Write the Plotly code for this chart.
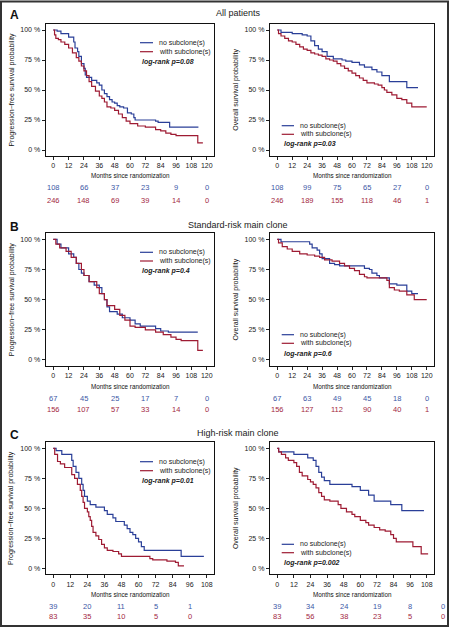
import plotly.graph_objects as go

W, H = 451, 628

# ---------------- data ----------------
# Panel A, PFS
a_pfs_no_t = [0, 3, 6, 12, 16, 17, 19, 20, 22, 24, 25, 26, 30, 34, 36, 38, 40, 42, 44, 46, 48, 50, 52, 55, 58, 61, 63, 64, 80, 82, 91, 113.5]
a_pfs_no_s = [100, 99, 97, 94, 90, 85, 82, 78, 72, 68, 62.5, 60.5, 58, 56, 54, 50, 47, 44.5, 42, 40, 39, 37, 36, 35, 31, 30, 27, 25, 24, 23, 19, 19]
a_pfs_sub_t = [0, 1, 2, 4, 6, 9, 12, 15, 18, 20, 22, 24, 26, 28, 30, 33, 36, 38, 40, 42, 45, 48, 51, 54, 57, 60, 66, 72, 80, 84, 88, 92, 96, 113, 117]
a_pfs_sub_s = [100, 96, 93, 92, 90, 88, 85, 81, 77, 74, 70, 66, 62, 57, 53, 49, 45, 43, 40, 36, 35, 33, 30, 27, 24, 22, 20, 19, 17, 16, 14, 13, 12, 6, 6]
# Panel A, OS
a_os_no_t = [0, 3, 12, 20, 24, 27, 30, 33, 36, 40, 45, 52, 55, 60, 66, 70, 76, 80, 84, 90, 104, 113]
a_os_no_s = [100, 98, 97, 96, 95, 91, 87, 84, 82, 78, 76, 75, 74, 73, 71, 69, 67, 65, 62, 57, 52, 52]
a_os_sub_t = [0, 1, 3, 6, 9, 12, 15, 18, 21, 24, 27, 30, 33, 36, 39, 42, 45, 48, 51, 54, 57, 60, 63, 66, 69, 72, 78, 81, 84, 86, 88, 92, 96, 100, 104, 108, 120]
a_os_sub_s = [100, 97, 95, 93, 91, 90, 88, 86, 84, 83, 81, 80, 79, 78, 76, 75, 74, 72, 70, 68, 66, 64, 62, 60, 58, 56, 55, 54, 52, 50, 48, 46, 43, 42, 39, 36, 36]

# Panel B, PFS
b_pfs_no_t = [0, 3, 6, 12, 16, 18, 20, 22, 24, 28, 32, 36, 38, 40, 42, 44, 50, 54, 60, 64, 68, 80, 84, 90, 113]
b_pfs_no_s = [100, 96, 93, 88, 85, 80, 75, 72, 70, 65, 62, 60, 55, 50, 44, 40, 38, 35, 33, 30, 28, 26, 24, 23, 23]
b_pfs_sub_t = [0, 2, 5, 10, 14, 18, 22, 24, 28, 34, 36, 40, 42, 48, 52, 56, 60, 64, 72, 80, 86, 92, 96, 100, 113, 117]
b_pfs_sub_s = [100, 96, 93, 90, 85, 80, 75, 70, 65, 60, 55, 50, 45, 42, 37, 33, 28, 27, 25, 23, 21, 19, 17, 16, 8, 8]
# Panel B, OS
b_os_no_t = [0, 3, 26, 28, 32, 34, 36, 42, 46, 50, 70, 74, 76, 80, 82, 90, 96, 104, 108, 113]
b_os_no_s = [100, 98, 96, 93, 91, 88, 84, 80, 79, 78, 76, 75, 72, 70, 68, 63, 62, 57, 55, 55]
b_os_sub_t = [0, 1, 4, 8, 12, 18, 24, 30, 34, 38, 44, 50, 54, 58, 62, 66, 70, 72, 88, 90, 94, 98, 104, 110, 120]
b_os_sub_s = [100, 97, 94, 92, 90, 88, 87, 86, 85, 83, 82, 80, 78, 76, 74, 71, 69, 68, 66, 60, 58, 57, 54, 50, 50]

# Panel C, PFS
c_pfs_no_t = [0, 2, 6, 13, 14, 16, 18, 20, 21, 22, 24, 26, 30, 36, 38, 42, 44, 50, 52, 54, 56, 58, 60, 62, 64, 90, 106]
c_pfs_no_s = [100, 98, 95, 90, 85, 80, 75, 70, 65, 60, 56, 53, 51, 48, 45, 42, 39, 36, 33, 30, 28, 25, 22, 18, 15, 10, 10]
c_pfs_sub_t = [0, 1, 3, 5, 8, 13, 15, 17, 19, 20, 21, 22, 24, 25, 26, 27, 28, 30, 32, 34, 36, 38, 42, 46, 48, 68, 70, 80, 86, 88, 92]
c_pfs_sub_s = [100, 95, 89, 87, 84, 78, 75, 70, 65, 60, 55, 50, 47, 43, 40, 35, 30, 27, 24, 20, 17, 15, 14, 12, 10, 8, 7, 6, 5, 2, 2]
# Panel C, OS
c_os_no_t = [0, 1, 12, 22, 26, 28, 30, 32, 34, 38, 54, 60, 66, 70, 82, 90, 106]
c_os_no_s = [100, 97, 95, 92, 90, 85, 80, 76, 73, 70, 68, 65, 61, 56, 53, 48, 48]
c_os_sub_t = [0, 1, 3, 6, 8, 12, 14, 16, 18, 22, 24, 26, 28, 30, 32, 34, 38, 44, 46, 50, 54, 56, 60, 64, 66, 70, 74, 78, 82, 84, 86, 98, 104, 109]
c_os_sub_s = [100, 97, 95, 92, 90, 88, 85, 80, 77, 74, 72, 70, 67, 63, 60, 57, 56, 53, 50, 47, 45, 43, 40, 38, 36, 34, 32, 31, 28, 25, 22, 18, 12, 12]

# Numbers at risk
a_risk_times = [0, 24, 48, 72, 96, 120]
a_pfs_risk_no = [108, 66, 37, 23, 9, 0]
a_pfs_risk_sub = [246, 148, 69, 39, 14, 0]
a_os_risk_no = [108, 99, 75, 65, 27, 0]
a_os_risk_sub = [246, 189, 155, 118, 46, 1]
b_risk_times = [0, 24, 48, 72, 96, 120]
b_pfs_risk_no = [67, 45, 25, 17, 7, 0]
b_pfs_risk_sub = [156, 107, 57, 33, 14, 0]
b_os_risk_no = [67, 63, 49, 45, 18, 0]
b_os_risk_sub = [156, 127, 112, 90, 40, 1]
c_pfs_risk_times = [0, 24, 48, 72, 96]
c_pfs_risk_no = [39, 20, 11, 5, 1]
c_pfs_risk_sub = [83, 35, 10, 5, 0]
c_os_risk_times = [0, 24, 48, 72, 96, 120]
c_os_risk_no = [39, 34, 24, 19, 8, 0]
c_os_risk_sub = [83, 56, 38, 23, 5, 0]

pvalues = ["0.08", "0.03", "0.4", "0.6", "0.01", "0.002"]
panel_letters = ["A", "B", "C"]
panel_titles = ["All patients", "Standard-risk main clone", "High-risk main clone"]
legend_labels = ["no subclone(s)", "with subclone(s)"]
y_tick_vals = [0, 25, 50, 75, 100]
y_tick_text = ["0 %", "25 %", "50 %", "75 %", "100 %"]

# ---------------- styling ----------------
BLUE = "#2A3F98"
RED = "#9E1B33"
BLUE_T = "#3C57A6"
RED_T = "#A3283F"
TXT = "#222222"
FONT = "Liberation Sans, Arial, sans-serif"


def px(x):
    return x / W


def py(y):
    return 1 - y / H


fig = go.Figure()

# geometry (pixels)
col_x = [(45.6, 214.4), (269.8, 434.2)]
row_y = [(24, 156), (233.3, 366), (442.3, 574.3)]
month_label_y = [176, 386, 594]
risk_y = [(188, 200.5), (398.3, 409), (606.7, 616.7)]
title_y = [13, 225, 433]
legend_left_y = [(42.7, 51.7, 61.7), (252.3, 261, 271), (461.7, 470.7, 481)]
legend_right_y = [(125.7, 134.3, 144.3), (334.7, 343.3, 353.7), (544.3, 552.7, 563)]

panels = [
    (a_pfs_no_t, a_pfs_no_s, a_pfs_sub_t, a_pfs_sub_s, a_risk_times, a_pfs_risk_no, a_pfs_risk_sub, 120),
    (a_os_no_t, a_os_no_s, a_os_sub_t, a_os_sub_s, a_risk_times, a_os_risk_no, a_os_risk_sub, 120),
    (b_pfs_no_t, b_pfs_no_s, b_pfs_sub_t, b_pfs_sub_s, b_risk_times, b_pfs_risk_no, b_pfs_risk_sub, 120),
    (b_os_no_t, b_os_no_s, b_os_sub_t, b_os_sub_s, b_risk_times, b_os_risk_no, b_os_risk_sub, 120),
    (c_pfs_no_t, c_pfs_no_s, c_pfs_sub_t, c_pfs_sub_s, c_pfs_risk_times, c_pfs_risk_no, c_pfs_risk_sub, 108),
    (c_os_no_t, c_os_no_s, c_os_sub_t, c_os_sub_s, c_os_risk_times, c_os_risk_no, c_os_risk_sub, 108),
]

annotations = []
shapes = []

for i, (nt, ns, st, ss, rt, rn, rs, xmax) in enumerate(panels):
    r, c = divmod(i, 2)
    k = i + 1
    xa = "x" if k == 1 else f"x{k}"
    ya = "y" if k == 1 else f"y{k}"
    xkey = "xaxis" if k == 1 else f"xaxis{k}"
    ykey = "yaxis" if k == 1 else f"yaxis{k}"
    pad = xmax * 0.05
    xr = [-pad, xmax + pad]
    x0, x1 = col_x[c]
    y0, y1 = row_y[r]
    fig.add_trace(go.Scatter(x=nt, y=ns, mode="lines", line=dict(color=BLUE, width=1.2, shape="hv"),
                             xaxis=xa, yaxis=ya, showlegend=False, hoverinfo="skip"))
    fig.add_trace(go.Scatter(x=st, y=ss, mode="lines", line=dict(color=RED, width=1.2, shape="hv"),
                             xaxis=xa, yaxis=ya, showlegend=False, hoverinfo="skip"))
    fig.layout[xkey] = dict(domain=[px(x0), px(x1)], range=xr, anchor=ya,
                            tickvals=list(range(0, xmax + 1, 12)), ticks="outside", ticklen=3,
                            tickcolor="#222", tickwidth=1, showline=True, linecolor="#111", linewidth=1,
                            mirror=True, showgrid=False, zeroline=False,
                            tickfont=dict(family=FONT, size=7, color=TXT), fixedrange=True)
    fig.layout[ykey] = dict(domain=[py(y1), py(y0)], range=[-5, 105], anchor=xa,
                            tickvals=y_tick_vals, ticktext=y_tick_text, ticks="outside", ticklen=3,
                            tickcolor="#222", tickwidth=1, showline=True, linecolor="#111", linewidth=1,
                            mirror=True, showgrid=False, zeroline=False,
                            tickfont=dict(family=FONT, size=7, color=TXT), fixedrange=True)

    def tx_paper(t, x0=x0, x1=x1, xr=xr):
        # map a time value through this panel's x scale to paper coords
        return px(x0 + (t - xr[0]) / (xr[1] - xr[0]) * (x1 - x0))

    # y title
    ytitle = "Progression\u2212free survival probability" if c == 0 else "Overall survival probability"
    annotations.append(dict(x=px(x0 - 34), y=py((y0 + y1) / 2), xref="paper", yref="paper",
                            text=ytitle, textangle=-90, showarrow=False,
                            font=dict(family=FONT, size=7, color="#111"), xanchor="center", yanchor="middle"))
    # x title
    annotations.append(dict(x=tx_paper(xmax / 2), y=py(month_label_y[r]), xref="paper", yref="paper",
                            text="Months since randomization", showarrow=False,
                            font=dict(family=FONT, size=6.3, color="#111"), xanchor="center", yanchor="middle"))
    # risk table
    for t, v in zip(rt, rn):
        annotations.append(dict(x=tx_paper(t), y=py(risk_y[r][0]), xref="paper", yref="paper", text=str(v),
                                showarrow=False, font=dict(family=FONT, size=7.5, color=BLUE_T),
                                xanchor="center", yanchor="middle"))
    for t, v in zip(rt, rs):
        annotations.append(dict(x=tx_paper(t), y=py(risk_y[r][1]), xref="paper", yref="paper", text=str(v),
                                showarrow=False, font=dict(family=FONT, size=7.5, color=RED_T),
                                xanchor="center", yanchor="middle"))
    # legend
    if c == 0:
        lx0, lx1, tx = 140, 153, 156.5
        ly = legend_left_y[r]
    else:
        lx0, lx1, tx = 281.7, 294, 297.5
        ly = legend_right_y[r]
    for j, col in enumerate([BLUE, RED]):
        shapes.append(dict(type="line", xref="paper", yref="paper", x0=px(lx0), x1=px(lx1),
                           y0=py(ly[j]), y1=py(ly[j]), line=dict(color=col, width=1.2)))
        annotations.append(dict(x=px(tx), y=py(ly[j]), xref="paper", yref="paper", text=legend_labels[j],
                                showarrow=False, font=dict(family=FONT, size=7, color=TXT),
                                xanchor="left", yanchor="middle"))
    annotations.append(dict(x=px(lx0), y=py(ly[2]), xref="paper", yref="paper",
                            text=f"<b><i>log-rank p={pvalues[i]}</i></b>", showarrow=False,
                            font=dict(family=FONT, size=7, color=TXT), xanchor="left", yanchor="middle"))

for r in range(3):
    annotations.append(dict(x=px(8), y=py(title_y[r] + 2), xref="paper", yref="paper",
                            text=f"<b>{panel_letters[r]}</b>", showarrow=False,
                            font=dict(family=FONT, size=12, color="#111"), xanchor="left", yanchor="middle"))
    annotations.append(dict(x=px(238), y=py(title_y[r]), xref="paper", yref="paper",
                            text=panel_titles[r], showarrow=False,
                            font=dict(family=FONT, size=9, color=TXT), xanchor="center", yanchor="middle"))

# outer frame
shapes.append(dict(type="rect", xref="paper", yref="paper", x0=px(1), x1=px(448), y0=py(626), y1=py(1.5),
                   line=dict(color="#333", width=2), fillcolor="rgba(0,0,0,0)"))

fig.update_layout(width=W, height=H, margin=dict(l=0, r=0, t=0, b=0), paper_bgcolor="white",
                  plot_bgcolor="white", showlegend=False, annotations=annotations, shapes=shapes)

fig.write_html("out.html", config={"displayModeBar": False, "staticPlot": True},
               post_script="document.body.style.margin='0';document.body.style.padding='0';"
                           "document.body.style.overflow='hidden';")
